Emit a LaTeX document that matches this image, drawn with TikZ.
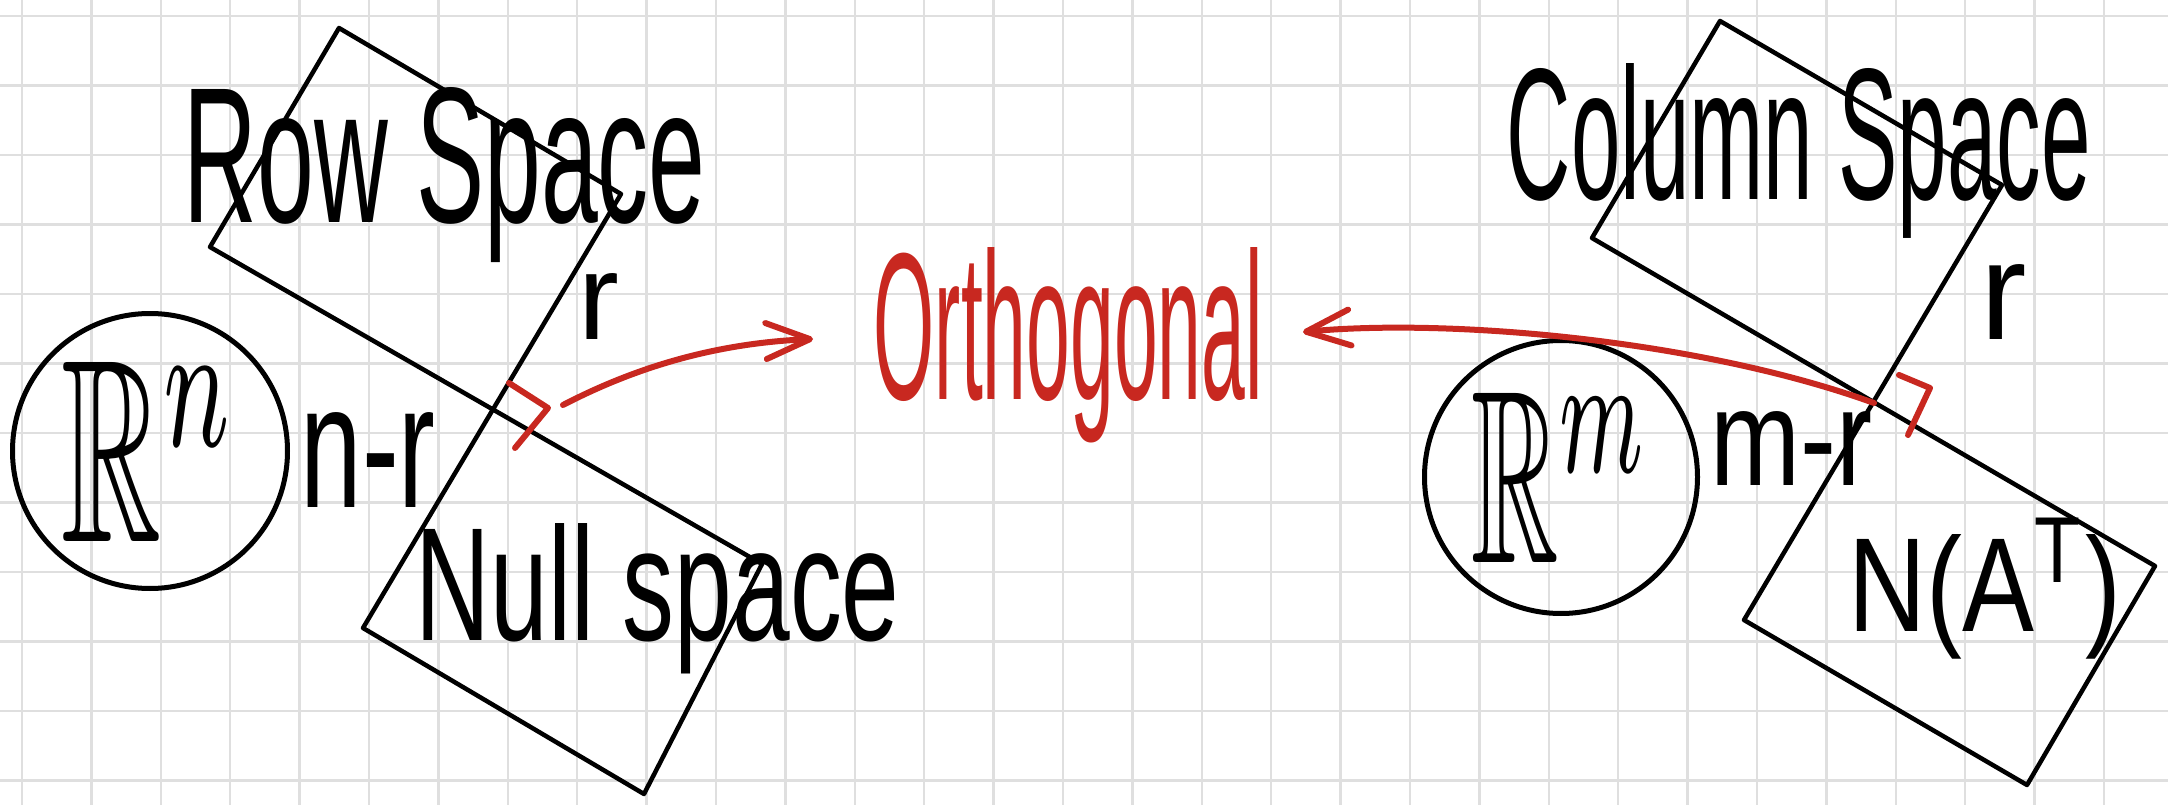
\documentclass[tikz,border=0pt]{standalone}
\usepackage{fontspec}
\setmainfont{Liberation Sans}
\usepackage{amssymb}
\usetikzlibrary{arrows.meta}
\definecolor{pen}{RGB}{200,40,32}
\newcommand{\hand}[3]{\resizebox{#1}{#2}{#3}}

\begin{document}
\begin{tikzpicture}[
    x=0.1mm, y=-0.1mm,
    gridline/.style={draw=gray!25, line width=0.25mm},
    ink/.style={draw=black, line width=0.45mm, line join=round, line cap=round},
    redink/.style={draw=pen, line width=0.6mm, line join=round, line cap=round},
    ring/.style={circle, draw, line width=0.5mm, minimum size=27.5mm, inner sep=0pt},
    word/.style={inner sep=0pt, anchor=base west},
    flow/.style={redink, -{Straight Barb[length=4.4mm, width=3.6mm, round]}}
]
\useasboundingbox (0,0) rectangle (2168,805);
\fill[white] (0,0) rectangle (2168,805);
\foreach \i in {0,...,30} \draw[gridline] (22+69.4*\i,0) -- (22+69.4*\i,805);
\foreach \j in {0,...,11} \draw[gridline] (0,16+69.5*\j) -- (2168,16+69.5*\j);

\coordinate (a1) at (339,28);
\coordinate (a2) at (621,194);
\coordinate (a3) at (210,247);
\coordinate (ax) at (492,411);
\coordinate (a4) at (762,564);
\coordinate (a5) at (644,794);
\coordinate (a6) at (363,628);
\draw[ink] (a1) -- (a2) -- (a6) -- (a5) -- (a4) -- (a3) -- cycle;

\coordinate (b1) at (1720,21);
\coordinate (b2) at (2002,185);
\coordinate (b3) at (1592,238);
\coordinate (bx) at (1874,403);
\coordinate (b4) at (2155,566);
\coordinate (b5) at (2027,785);
\coordinate (b6) at (1744,620);
\draw[ink] (b1) -- (b2) -- (b6) -- (b5) -- (b4) -- (b3) -- cycle;

\node[ring] (rn) at (150,451) {\hand{17.6mm}{18mm}{$\mathbb{R}^n$}};
\node[ring, minimum size=27.3mm] (rm) at (1561,477) {\hand{18mm}{17mm}{$\mathbb{R}^m$}};

\node[word] (rowsp) at (183,223) {\hand{52.2mm}{13.5mm}{Row Space}};
\node[word] (rl) at (578,340) {\hand{!}{6.6mm}{r}};
\node[word] (nr) at (300,507) {\hand{13.5mm}{9.5mm}{n-r}};
\node[word] (nullsp) at (415,640) {\hand{48.4mm}{11.7mm}{Null space}};

\node[word, text=pen] (ortho) at (873,400) {\hand{38.9mm}{15.2mm}{Orthogonal}};

\node[word] (colsp) at (1506,200) {\hand{58.4mm}{13.6mm}{Column Space}};
\node[word] (rr) at (1980,339) {\hand{!}{7.5mm}{r}};
\node[word] (mr) at (1710,485) {\hand{16.2mm}{7.4mm}{m-r}};
\node[word] (nat) at (1848,631) {\hand{27.3mm}{11.3mm}{N(A\textsuperscript{T})}};

\draw[redink] (509,383) -- (548,408) -- (515,448);
\draw[redink] (1899,375) -- (1930,388) -- (1908,435);

\coordinate (lstart) at (563,405);
\coordinate (ltip) at (813,339);
\coordinate (rtip) at (1303,332);
\draw[flow] (lstart) .. controls (640,365) and (720,343) .. (ltip);
\draw[flow] (bx) .. controls (1700,340) and (1450,318) .. (rtip);
\end{tikzpicture}
\end{document}
